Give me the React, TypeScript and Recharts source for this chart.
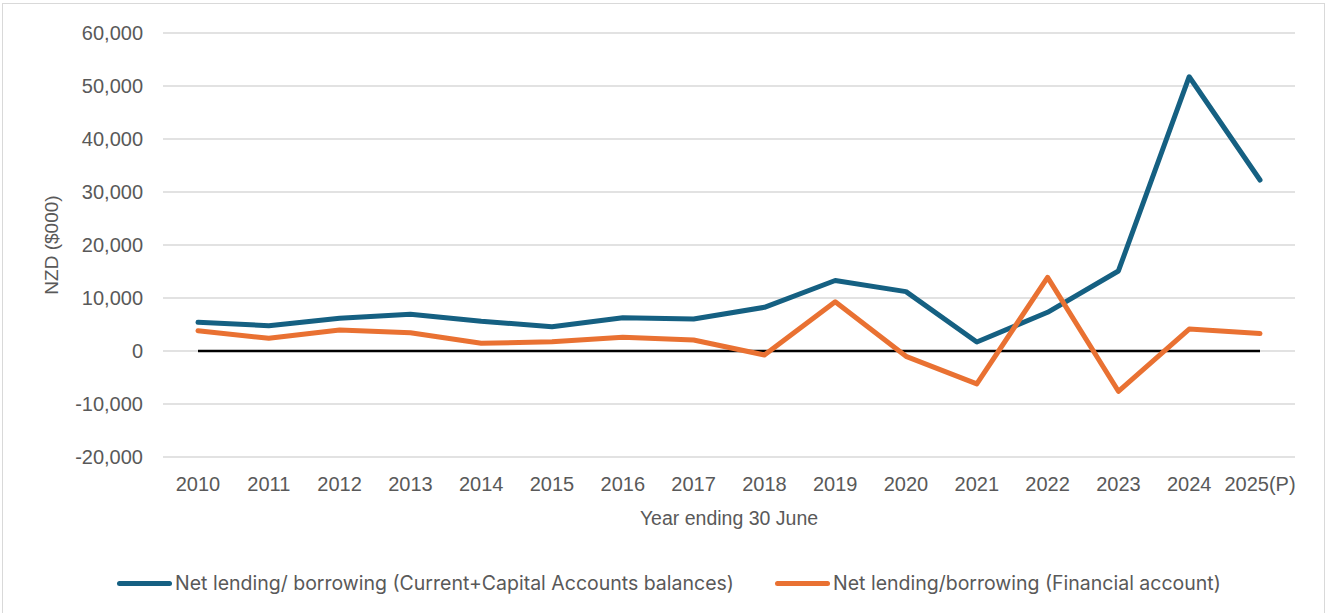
import React from "react";
import { LineChart, Line, XAxis, YAxis, CartesianGrid } from "recharts";

const years = [
  "2010", "2011", "2012", "2013", "2014", "2015", "2016", "2017",
  "2018", "2019", "2020", "2021", "2022", "2023", "2024", "2025(P)",
];
const currentCapital = [
  5420, 4780, 6170, 6920, 5600, 4590, 6290, 6040,
  8240, 13300, 11200, 1700, 7300, 15100, 51750, 32260,
];
const financialAccount = [
  3830, 2390, 3960, 3450, 1450, 1760, 2580, 2080,
  -750, 9300, -1000, -6200, 13900, -7600, 4150, 3300,
];
const zeroLine = [0, 0, 0, 0, 0, 0, 0, 0, 0, 0, 0, 0, 0, 0, 0, 0];
const yTicks = [-20000, -10000, 0, 10000, 20000, 30000, 40000, 50000, 60000];

const BLUE = "#156082";
const ORANGE = "#E97132";

const data = years.map((year, i) => ({
  year,
  current: currentCapital[i],
  financial: financialAccount[i],
  zero: zeroLine[i],
}));

const tickStyle = { fill: "#595959", fontSize: 20, fontFamily: "Liberation Sans, Arial, sans-serif" };

const legendStyle: React.CSSProperties = {
  position: "absolute",
  top: 583,
  transform: "translateY(-50%)",
  display: "flex",
  alignItems: "center",
  fontFamily: "Inter, sans-serif",
  fontSize: 19.5,
  color: "#595959",
  whiteSpace: "nowrap",
};

const App: React.FC = () => {
  return (
    <div style={{ position: "absolute", left: 0, top: 0, width: 1330, height: 613, overflow: "hidden", background: "#fff" }}>
      <div
        style={{
          position: "absolute",
          left: 2,
          top: 3,
          width: 1321,
          height: 640,
          border: "1px solid #d9d9d9",
        }}
      />
      <div style={{ position: "absolute", left: 0, top: 0 }}>
        <LineChart width={1330} height={613} data={data} margin={{ top: 33, right: 35, bottom: 0, left: 0 }}>
          <CartesianGrid vertical={false} stroke="#d9d9d9" strokeWidth={1.5} />
          <XAxis
            dataKey="year"
            axisLine={false}
            tickLine={false}
            tickSize={0}
            tickMargin={20}
            height={156}
            interval={0}
            padding={{ left: 35, right: 35 }}
            tick={tickStyle}
          />
          <YAxis
            width={163}
            domain={[-20000, 60000]}
            ticks={yTicks}
            axisLine={false}
            tickLine={false}
            tickSize={0}
            tickMargin={20}
            tick={tickStyle}
            tickFormatter={(v: number) => v.toLocaleString("en-US")}
          />
          <Line dataKey="zero" stroke="#000" strokeWidth={2.5} dot={false} isAnimationActive={false} />
          <Line dataKey="current" stroke={BLUE} strokeWidth={5} strokeLinecap="round" strokeLinejoin="round" dot={false} isAnimationActive={false} />
          <Line dataKey="financial" stroke={ORANGE} strokeWidth={5} strokeLinecap="round" strokeLinejoin="round" dot={false} isAnimationActive={false} />
        </LineChart>
      </div>
      <div
        style={{
          position: "absolute",
          left: 52,
          top: 245,
          transform: "translate(-50%, -50%) rotate(-90deg)",
          whiteSpace: "nowrap",
          color: "#595959",
          fontSize: 19,
          fontFamily: "Liberation Sans, Arial, sans-serif",
        }}
      >
        NZD ($000)
      </div>
      <div
        style={{
          position: "absolute",
          left: 729,
          top: 518,
          transform: "translate(-50%, -50%)",
          whiteSpace: "nowrap",
          color: "#595959",
          fontSize: 19.5,
          fontFamily: "Liberation Sans, Arial, sans-serif",
        }}
      >
        Year ending 30 June
      </div>
      <div style={{ ...legendStyle, left: 117 }}>
        <span style={{ display: "inline-block", width: 55, height: 5, borderRadius: 3, background: BLUE, marginRight: 3 }} />
        <span>Net lending/ borrowing (Current+Capital Accounts balances)</span>
      </div>
      <div style={{ ...legendStyle, left: 775 }}>
        <span style={{ display: "inline-block", width: 55, height: 5, borderRadius: 3, background: ORANGE, marginRight: 3 }} />
        <span>Net lending/borrowing (Financial account)</span>
      </div>
    </div>
  );
};

export default App;
